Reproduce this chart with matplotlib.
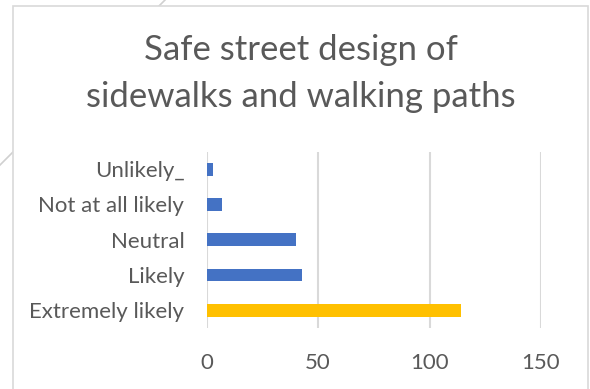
import matplotlib
matplotlib.use("Agg")
import matplotlib.pyplot as plt
from matplotlib.patches import Rectangle
from matplotlib.lines import Line2D

categories = ["Extremely likely", "Likely", "Neutral", "Not at all likely", "Unlikely_"]
values = [114, 43, 40, 7, 3]
bar_colors = ["#FFC000", "#4472C4", "#4472C4", "#4472C4", "#4472C4"]
x_ticks = [0, 50, 100, 150]
title_lines = ["Safe street design of", "sidewalks and walking paths"]

W, H = 590, 389
fig = plt.figure(figsize=(W / 100, H / 100), dpi=100)
fig.patch.set_facecolor("white")

# faint diagonal decoration behind the chart frame
fig.add_artist(Line2D([0 / W, 165 / W], [1 - 165 / H, 1 - 0 / H],
                      transform=fig.transFigure, color="#d0d0d0", lw=1.2, zorder=0))
# chart frame
fig.add_artist(Rectangle((13 / W, -0.01), (588 - 13) / W, 1 - 6 / H + 0.01,
                         transform=fig.transFigure, facecolor="white",
                         edgecolor="#d9d9d9", lw=1.2, zorder=1))

ax = fig.add_axes([206.5 / W, (H - 328) / H, (541 - 206.5) / W, (328 - 151.5) / H])
ax.set_zorder(2)
ax.patch.set_alpha(0)

ypos = list(range(len(categories)))
ax.barh(ypos, values, height=0.36, color=bar_colors, zorder=3)

ax.set_xlim(0, 150)
ax.set_ylim(-0.5, len(categories) - 0.5)
ax.set_xticks(x_ticks)
ax.set_yticks(ypos)
ax.set_yticklabels(categories)
ax.grid(axis="x", color="#d9d9d9", lw=1.5, zorder=0)
for s in ax.spines.values():
    s.set_visible(False)
ax.tick_params(axis="both", length=0, labelsize=16, colors="#595959")
ax.tick_params(axis="y", pad=16)
ax.tick_params(axis="x", pad=18)
for lbl in ax.get_xticklabels() + ax.get_yticklabels():
    lbl.set_fontfamily("Lato")

# two-line title, each line placed separately
for line, yc in zip(title_lines, [50, 97]):
    fig.text(301 / W, 1 - yc / H, line, ha="center", va="center", fontsize=25,
             color="#595959", family="Lato", zorder=3)

fig.savefig("out.png", dpi=100)
